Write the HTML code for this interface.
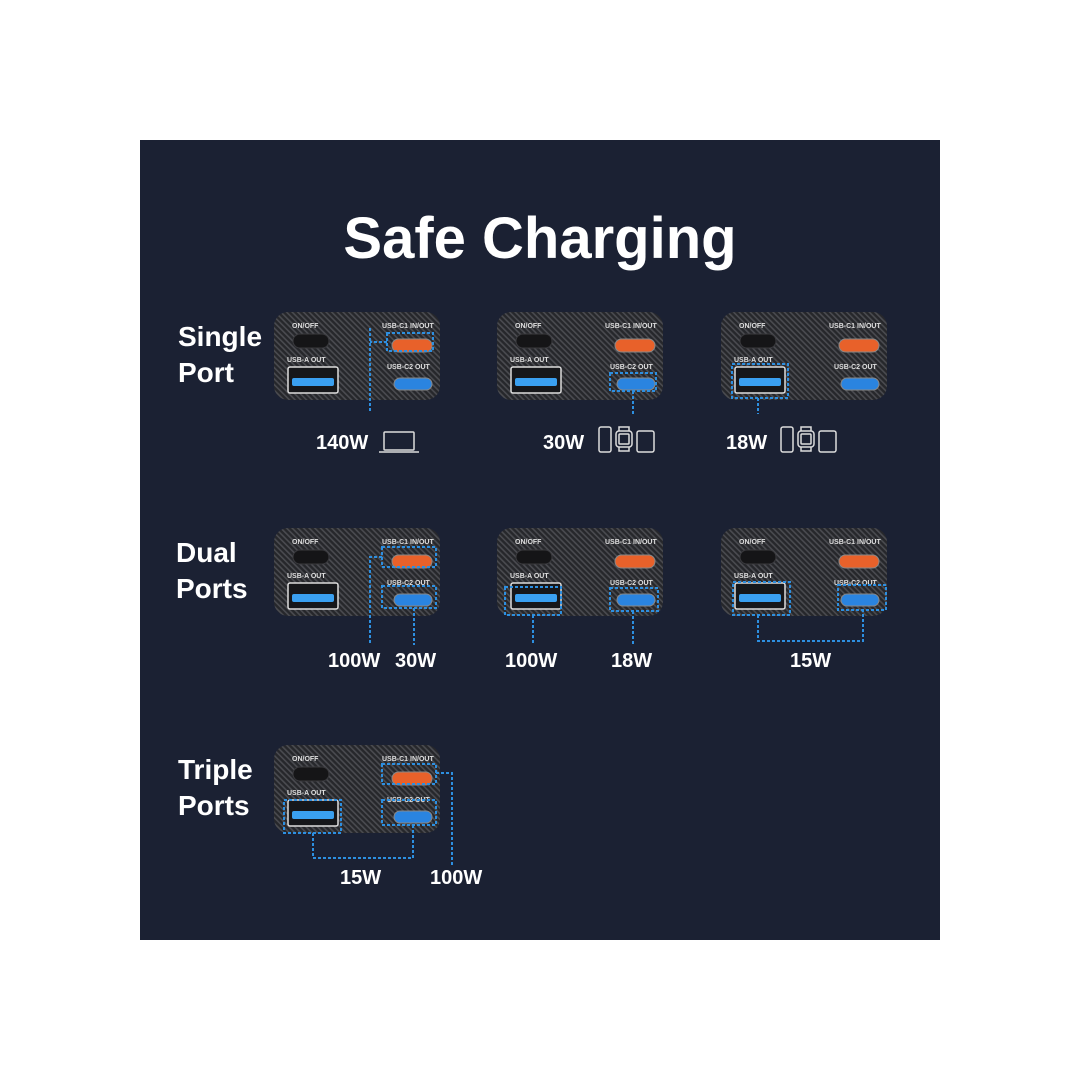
<!DOCTYPE html>
<html><head><meta charset="utf-8"><style>
html,body{margin:0;padding:0;background:#fff;}
svg{display:block;}
text{font-family:"Liberation Sans",sans-serif;font-weight:bold;}
</style></head><body>
<svg width="1080" height="1080" viewBox="0 0 1080 1080" xmlns="http://www.w3.org/2000/svg">
<defs>
<pattern id="cf" width="4" height="4" patternUnits="userSpaceOnUse" patternTransform="rotate(-45)">
<rect width="4" height="4" fill="#26272b"/><rect width="1.6" height="4" fill="#4a4b50"/>
</pattern>
</defs>
<rect x="0" y="0" width="1080" height="1080" fill="#fff"/>
<rect x="140" y="140" width="800" height="800" fill="#1b2133"/>
<text x="540" y="258" font-size="58" fill="#fff" text-anchor="middle">Safe Charging</text>

<g fill="#fff" font-size="28">
<text x="178" y="346">Single</text><text x="178" y="382">Port</text>
<text x="176" y="562">Dual</text><text x="176" y="598">Ports</text>
<text x="178" y="779">Triple</text><text x="178" y="815">Ports</text>
</g>

<!-- devices -->
<g id="devs" font-size="7" fill="#e8e8e8">
<g transform="translate(274,312)">
<rect width="166" height="88" rx="14" fill="url(#cf)"/>
<text x="18" y="16" fill="#ddd">ON/OFF</text><rect x="19" y="22" width="36" height="14" rx="7" fill="#151517" stroke="#3a3a3e"/>
<text x="13" y="50" fill="#ddd">USB-A OUT</text><rect x="14" y="55" width="50" height="26" rx="2" fill="#16171a" stroke="#ddd" stroke-width="1.5"/><rect x="18" y="66" width="42" height="8" rx="2" fill="#3aa0f0"/>
<text x="108" y="16" fill="#ddd">USB-C1 IN/OUT</text><rect x="118" y="27" width="40" height="13" rx="6.5" fill="#e8612a" stroke="#888"/>
<text x="113" y="57" fill="#ddd">USB-C2 OUT</text><rect x="120" y="66" width="38" height="12" rx="6" fill="#2a84e0" stroke="#888"/>
</g>
<g transform="translate(497,312)">
<rect width="166" height="88" rx="14" fill="url(#cf)"/>
<text x="18" y="16" fill="#ddd">ON/OFF</text><rect x="19" y="22" width="36" height="14" rx="7" fill="#151517" stroke="#3a3a3e"/>
<text x="13" y="50" fill="#ddd">USB-A OUT</text><rect x="14" y="55" width="50" height="26" rx="2" fill="#16171a" stroke="#ddd" stroke-width="1.5"/><rect x="18" y="66" width="42" height="8" rx="2" fill="#3aa0f0"/>
<text x="108" y="16" fill="#ddd">USB-C1 IN/OUT</text><rect x="118" y="27" width="40" height="13" rx="6.5" fill="#e8612a" stroke="#888"/>
<text x="113" y="57" fill="#ddd">USB-C2 OUT</text><rect x="120" y="66" width="38" height="12" rx="6" fill="#2a84e0" stroke="#888"/>
</g>
<g transform="translate(721,312)">
<rect width="166" height="88" rx="14" fill="url(#cf)"/>
<text x="18" y="16" fill="#ddd">ON/OFF</text><rect x="19" y="22" width="36" height="14" rx="7" fill="#151517" stroke="#3a3a3e"/>
<text x="13" y="50" fill="#ddd">USB-A OUT</text><rect x="14" y="55" width="50" height="26" rx="2" fill="#16171a" stroke="#ddd" stroke-width="1.5"/><rect x="18" y="66" width="42" height="8" rx="2" fill="#3aa0f0"/>
<text x="108" y="16" fill="#ddd">USB-C1 IN/OUT</text><rect x="118" y="27" width="40" height="13" rx="6.5" fill="#e8612a" stroke="#888"/>
<text x="113" y="57" fill="#ddd">USB-C2 OUT</text><rect x="120" y="66" width="38" height="12" rx="6" fill="#2a84e0" stroke="#888"/>
</g>
<g transform="translate(274,528)">
<rect width="166" height="88" rx="14" fill="url(#cf)"/>
<text x="18" y="16" fill="#ddd">ON/OFF</text><rect x="19" y="22" width="36" height="14" rx="7" fill="#151517" stroke="#3a3a3e"/>
<text x="13" y="50" fill="#ddd">USB-A OUT</text><rect x="14" y="55" width="50" height="26" rx="2" fill="#16171a" stroke="#ddd" stroke-width="1.5"/><rect x="18" y="66" width="42" height="8" rx="2" fill="#3aa0f0"/>
<text x="108" y="16" fill="#ddd">USB-C1 IN/OUT</text><rect x="118" y="27" width="40" height="13" rx="6.5" fill="#e8612a" stroke="#888"/>
<text x="113" y="57" fill="#ddd">USB-C2 OUT</text><rect x="120" y="66" width="38" height="12" rx="6" fill="#2a84e0" stroke="#888"/>
</g>
<g transform="translate(497,528)">
<rect width="166" height="88" rx="14" fill="url(#cf)"/>
<text x="18" y="16" fill="#ddd">ON/OFF</text><rect x="19" y="22" width="36" height="14" rx="7" fill="#151517" stroke="#3a3a3e"/>
<text x="13" y="50" fill="#ddd">USB-A OUT</text><rect x="14" y="55" width="50" height="26" rx="2" fill="#16171a" stroke="#ddd" stroke-width="1.5"/><rect x="18" y="66" width="42" height="8" rx="2" fill="#3aa0f0"/>
<text x="108" y="16" fill="#ddd">USB-C1 IN/OUT</text><rect x="118" y="27" width="40" height="13" rx="6.5" fill="#e8612a" stroke="#888"/>
<text x="113" y="57" fill="#ddd">USB-C2 OUT</text><rect x="120" y="66" width="38" height="12" rx="6" fill="#2a84e0" stroke="#888"/>
</g>
<g transform="translate(721,528)">
<rect width="166" height="88" rx="14" fill="url(#cf)"/>
<text x="18" y="16" fill="#ddd">ON/OFF</text><rect x="19" y="22" width="36" height="14" rx="7" fill="#151517" stroke="#3a3a3e"/>
<text x="13" y="50" fill="#ddd">USB-A OUT</text><rect x="14" y="55" width="50" height="26" rx="2" fill="#16171a" stroke="#ddd" stroke-width="1.5"/><rect x="18" y="66" width="42" height="8" rx="2" fill="#3aa0f0"/>
<text x="108" y="16" fill="#ddd">USB-C1 IN/OUT</text><rect x="118" y="27" width="40" height="13" rx="6.5" fill="#e8612a" stroke="#888"/>
<text x="113" y="57" fill="#ddd">USB-C2 OUT</text><rect x="120" y="66" width="38" height="12" rx="6" fill="#2a84e0" stroke="#888"/>
</g>
<g transform="translate(274,745)">
<rect width="166" height="88" rx="14" fill="url(#cf)"/>
<text x="18" y="16" fill="#ddd">ON/OFF</text><rect x="19" y="22" width="36" height="14" rx="7" fill="#151517" stroke="#3a3a3e"/>
<text x="13" y="50" fill="#ddd">USB-A OUT</text><rect x="14" y="55" width="50" height="26" rx="2" fill="#16171a" stroke="#ddd" stroke-width="1.5"/><rect x="18" y="66" width="42" height="8" rx="2" fill="#3aa0f0"/>
<text x="108" y="16" fill="#ddd">USB-C1 IN/OUT</text><rect x="118" y="27" width="40" height="13" rx="6.5" fill="#e8612a" stroke="#888"/>
<text x="113" y="57" fill="#ddd">USB-C2 OUT</text><rect x="120" y="66" width="38" height="12" rx="6" fill="#2a84e0" stroke="#888"/>
</g>
</g>

<!-- highlights -->
<g fill="none" stroke="#2d8fe0" stroke-width="2" stroke-dasharray="3 2">
<!-- row1 -->
<rect x="387" y="333" width="46" height="18"/><path d="M387 342H370M370 328V412"/>
<rect x="610" y="373" width="46" height="18"/><path d="M633 391V414"/>
<rect x="732" y="364" width="56" height="34"/><path d="M758 398V414"/>
<!-- row2 -->
<rect x="382" y="547" width="54" height="20"/><rect x="382" y="586" width="54" height="22"/>
<path d="M382 557H370V645M414 608V645"/>
<rect x="505" y="587" width="56" height="28"/><rect x="610" y="588" width="48" height="23"/>
<path d="M533 615V645M633 611V645"/>
<rect x="733" y="582" width="57" height="33"/><rect x="838" y="585" width="48" height="25"/>
<path d="M758 615V641H863V610"/>
<!-- row3 -->
<rect x="382" y="764" width="54" height="20"/><rect x="382" y="800" width="54" height="25"/><rect x="284" y="800" width="57" height="33"/>
<path d="M313 833V858H413V825M436 773H452V865"/>
</g>

<!-- labels -->
<g fill="#fff" font-size="20">
<text x="316" y="449">140W</text>
<text x="543" y="449">30W</text>
<text x="726" y="449">18W</text>
<text x="328" y="667">100W</text><text x="395" y="667">30W</text>
<text x="505" y="667">100W</text><text x="611" y="667">18W</text>
<text x="790" y="667">15W</text>
<text x="340" y="884">15W</text><text x="430" y="884">100W</text>
</g>

<!-- icons -->
<g fill="none" stroke="#ddd" stroke-width="1.5">
<rect x="384" y="432" width="30" height="18" rx="1"/><path d="M379 452H419"/>
<g transform="translate(599,426)">
<rect x="0" y="1" width="12" height="25" rx="2"/>
<rect x="17" y="5" width="16" height="16" rx="3"/><rect x="20" y="8" width="10" height="10" rx="1"/><path d="M20 5V1H30V5M20 21V25H30V21"/>
<rect x="38" y="5" width="17" height="21" rx="2"/>
</g>
<g transform="translate(781,426)">
<rect x="0" y="1" width="12" height="25" rx="2"/>
<rect x="17" y="5" width="16" height="16" rx="3"/><rect x="20" y="8" width="10" height="10" rx="1"/><path d="M20 5V1H30V5M20 21V25H30V21"/>
<rect x="38" y="5" width="17" height="21" rx="2"/>
</g>
</g>
</svg>
</body></html>
